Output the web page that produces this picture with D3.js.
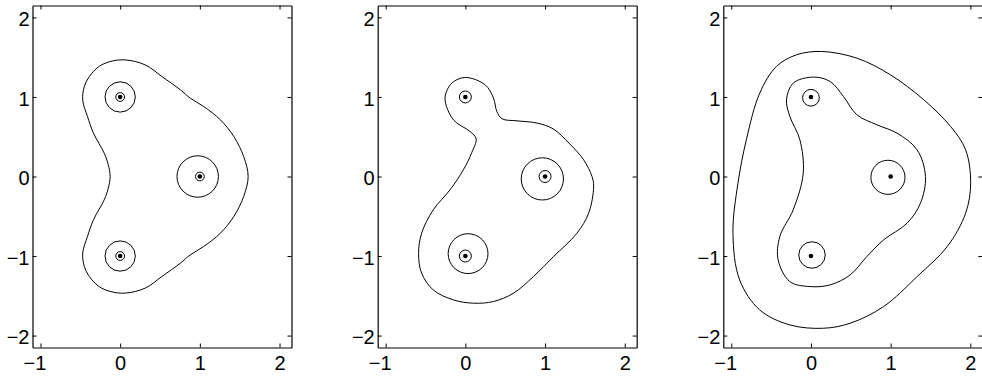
<!DOCTYPE html>
<html lang="en">
  <head>
    <meta charset="utf-8" />
    <title>Level curves</title>
    <style>
      body { margin: 0; background: #fff; }
      svg { display: block; }
    </style>
  </head>
  <body>
    <svg id="chart" width="982" height="376"></svg>
    <script src="https://d3js.org/d3.v7.min.js"></script>
    <script>
      // axis settings
      var xDomain = [-1.1, 2.15];
      var yDomain = [-2.15, 2.15];
      var xTicks = [-1, 0, 1, 2];
      var yTicks = [-2, -1, 0, 1, 2];

      // the three singular points
      var centers = [[0, 1], [1, 0], [0, -1]];

      // panel 1 : outer level curve (traced), circles round each point
      var p1Curve = [
        [-0.126, 0], [-0.15, 0.15], [-0.2, 0.293], [-0.335, 0.545], [-0.41, 0.754],
        [-0.47, 0.96], [-0.45, 1.13], [-0.386, 1.257], [-0.27, 1.38], [-0.126, 1.445],
        [0.063, 1.466], [0.315, 1.403], [0.524, 1.257], [0.755, 1.09], [0.88, 0.985],
        [1.048, 0.88], [1.258, 0.712], [1.426, 0.503], [1.55, 0.251], [1.606, 0],
        [1.55, -0.251], [1.426, -0.503], [1.258, -0.712], [1.048, -0.88], [0.88, -0.985],
        [0.755, -1.09], [0.524, -1.257], [0.315, -1.403], [0.063, -1.466], [-0.126, -1.445],
        [-0.27, -1.38], [-0.386, -1.257], [-0.45, -1.13], [-0.47, -0.96], [-0.41, -0.754],
        [-0.335, -0.545], [-0.2, -0.293], [-0.15, -0.15]
      ];
      var p1Circles = [[0, 1, 0.19], [0.973, 0, 0.26], [0, -1, 0.19]];
      var p1Ring = 0.055;

      // panel 2
      var p2Curve = [
        [0, 1.245], [0.248, 1.153], [0.353, 0.986], [0.395, 0.818], [0.459, 0.726],
        [0.648, 0.7], [0.9, 0.672], [1.1, 0.6], [1.3, 0.42], [1.484, 0.21],
        [1.589, 0], [1.61, -0.126], [1.547, -0.461], [1.4, -0.713], [1.107, -1.006],
        [0.855, -1.258], [0.604, -1.467], [0.352, -1.572], [0.1, -1.593], [-0.151, -1.551],
        [-0.403, -1.426], [-0.549, -1.216], [-0.587, -0.964], [-0.549, -0.713], [-0.403, -0.419],
        [-0.193, -0.168], [-0.025, 0.084], [0.08, 0.3], [0.135, 0.474], [0.059, 0.566],
        [-0.15, 0.713], [-0.255, 0.985], [-0.17, 1.174]
      ];
      var p2Circles = [[0.966, -0.03, 0.265], [0.034, -0.97, 0.25]];
      var p2Ring = 0.075;

      // panel 3 : two level curves
      var p3Inner = [
        [0.03, 1.25], [0.24, 1.195], [0.408, 1.006], [0.576, 0.776], [0.828, 0.65],
        [1.08, 0.545], [1.332, 0.335], [1.437, 0], [1.374, -0.335], [1.206, -0.587],
        [0.912, -0.797], [0.702, -1.006], [0.492, -1.237], [0.24, -1.363], [-0.013, -1.384],
        [-0.265, -1.321], [-0.412, -1.048], [-0.391, -0.755], [-0.223, -0.419], [-0.097, 0.042],
        [-0.139, 0.461], [-0.265, 0.755], [-0.307, 0.964], [-0.223, 1.174]
      ];
      var p3Outer = [
        [0.134, 1.572], [0.576, 1.488], [0.996, 1.279], [1.416, 0.964], [1.752, 0.629],
        [1.941, 0.335], [2.004, -0.084], [1.941, -0.461], [1.71, -0.881], [1.332, -1.258],
        [0.912, -1.635], [0.492, -1.845], [0.155, -1.908], [-0.265, -1.866], [-0.643, -1.677],
        [-0.895, -1.3], [-0.979, -0.713], [-0.916, -0.084], [-0.811, 0.461], [-0.643, 1.048],
        [-0.433, 1.384], [-0.181, 1.53]
      ];
      var p3Circles = [[0, 0.99, 0.105], [0.966, -0.01, 0.214], [0.013, -0.987, 0.166]];

      var panels = [
        { left: 32.5, curves: [p1Curve], circles: p1Circles, ring: p1Ring },
        { left: 377.7, curves: [p2Curve], circles: p2Circles, ring: p2Ring },
        { left: 723.3, curves: [p3Inner, p3Outer], circles: p3Circles, ring: 0 }
      ];

      var plotTop = 5.5,
        plotBottom = 347.5,
        plotWidth = 259;

      var fmt = d3.format("d");
      var svg = d3.select("#chart");

      panels.forEach(function (p) {
        var x = d3.scaleLinear().domain(xDomain).range([p.left, p.left + plotWidth]);
        var y = d3.scaleLinear().domain(yDomain).range([plotBottom, plotTop]);
        var g = svg.append("g");

        var line = d3
          .line()
          .x((d) => x(d[0]))
          .y((d) => y(d[1]))
          .curve(d3.curveCatmullRomClosed.alpha(0.5));

        g.selectAll("path.curve")
          .data(p.curves)
          .enter()
          .append("path")
          .attr("class", "curve")
          .attr("d", line)
          .attr("fill", "none")
          .attr("stroke", "#000")
          .attr("stroke-width", 1);

        g.selectAll("circle.level")
          .data(p.circles)
          .enter()
          .append("circle")
          .attr("class", "level")
          .attr("cx", (d) => x(d[0]))
          .attr("cy", (d) => y(d[1]))
          .attr("r", (d) => x(d[2]) - x(0))
          .attr("fill", "none")
          .attr("stroke", "#000")
          .attr("stroke-width", 1);

        if (p.ring > 0) {
          g.selectAll("circle.ring")
            .data(centers)
            .enter()
            .append("circle")
            .attr("class", "ring")
            .attr("cx", (d) => x(d[0]))
            .attr("cy", (d) => y(d[1]))
            .attr("r", x(p.ring) - x(0))
            .attr("fill", "none")
            .attr("stroke", "#000")
            .attr("stroke-width", 1);
        }

        g.selectAll("circle.dot")
          .data(centers)
          .enter()
          .append("circle")
          .attr("class", "dot")
          .attr("cx", (d) => x(d[0]))
          .attr("cy", (d) => y(d[1]))
          .attr("r", 2.3)
          .attr("fill", "#000");

        // box with inward ticks on all sides
        var axB = d3.axisBottom(x).tickValues(xTicks).tickSizeInner(-4).tickSizeOuter(0)
          .tickPadding(8).tickFormat(fmt);
        var axT = d3.axisTop(x).tickValues(xTicks).tickSizeInner(-4).tickSizeOuter(0).tickFormat("");
        var axL = d3.axisLeft(y).tickValues(yTicks).tickSizeInner(-4).tickSizeOuter(0)
          .tickPadding(3).tickFormat(fmt);
        var axR = d3.axisRight(y).tickValues(yTicks).tickSizeInner(-4).tickSizeOuter(0).tickFormat("");

        var gB = g.append("g").attr("transform", "translate(0," + plotBottom + ")").call(axB);
        g.append("g").attr("transform", "translate(0," + plotTop + ")").call(axT);
        var gL = g.append("g").attr("transform", "translate(" + p.left + ",0)").call(axL);
        g.append("g").attr("transform", "translate(" + (p.left + plotWidth) + ",0)").call(axR);

        g.selectAll(".domain").attr("stroke", "#000").attr("stroke-width", 1.2);
        g.selectAll(".tick line").attr("stroke", "#000");
        g.selectAll("g")
          .attr("font-size", 20)
          .attr("font-family", "Liberation Sans, Arial, sans-serif");
        g.selectAll(".tick text").attr("fill", "#000");

        // digits sit centred on the tick, the minus sign hangs to the left
        gB.selectAll(".tick text").attr("dx", (d) => (d < 0 ? "-0.3em" : 0));
        gL.selectAll(".tick text").attr("dy", "0.42em");
      });
    </script>
  </body>
</html>
